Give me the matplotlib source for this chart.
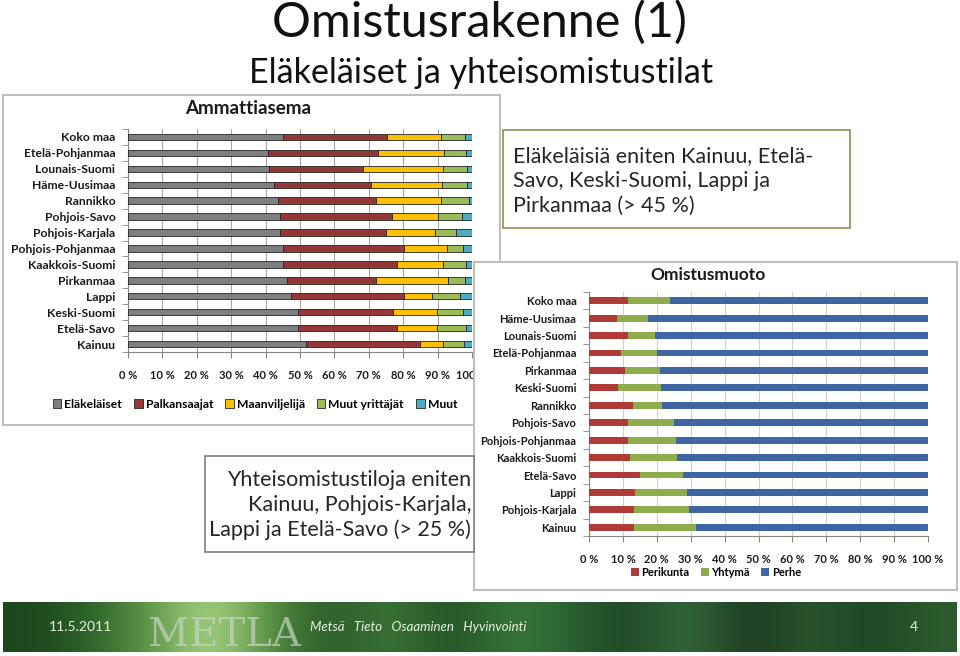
import numpy as np
import matplotlib.pyplot as plt
from matplotlib.patches import Rectangle

W, H = 960, 656

# --- Ammattiasema (left chart), shares in % ---
regions_a = ["Koko maa", "Etelä-Pohjanmaa", "Lounais-Suomi", "Häme-Uusimaa",
             "Rannikko", "Pohjois-Savo", "Pohjois-Karjala", "Pohjois-Pohjanmaa",
             "Kaakkois-Suomi", "Pirkanmaa", "Lappi", "Keski-Suomi",
             "Etelä-Savo", "Kainuu"]
elakelaiset = [45.0, 40.8, 41.1, 42.5, 43.5, 44.2, 44.2, 45.0, 45.1, 46.1, 47.3, 49.5, 49.5, 51.7]
palkansaajat = [30.4, 31.8, 27.2, 28.1, 28.5, 32.5, 30.8, 35.1, 33.1, 25.9, 33.0, 27.5, 28.7, 33.1]
maanviljelija = [15.7, 19.4, 23.4, 20.7, 19.1, 13.3, 14.3, 12.6, 13.3, 21.0, 8.0, 12.8, 11.6, 6.9]
muut_yrittajat = [6.8, 6.3, 6.8, 7.2, 7.9, 7.1, 6.0, 4.6, 6.8, 4.9, 8.1, 7.6, 8.5, 5.9]
muut = [2.1, 1.7, 1.5, 1.5, 1.0, 2.9, 4.7, 2.7, 1.7, 2.1, 3.6, 2.6, 1.7, 2.4]
series_a = ["Eläkeläiset", "Palkansaajat", "Maanviljelijä", "Muut yrittäjät", "Muut"]
colors_a = ["#7f7f7f", "#953735", "#ffc000", "#9bbb59", "#4bacc6"]

# --- Omistusmuoto (right chart), shares in % ---
regions_b = ["Koko maa", "Häme-Uusimaa", "Lounais-Suomi", "Etelä-Pohjanmaa",
             "Pirkanmaa", "Keski-Suomi", "Rannikko", "Pohjois-Savo",
             "Pohjois-Pohjanmaa", "Kaakkois-Suomi", "Etelä-Savo", "Lappi",
             "Pohjois-Karjala", "Kainuu"]
perikunta = [11.4, 8.4, 11.6, 9.4, 10.6, 8.7, 13.1, 11.6, 11.6, 12.1, 14.9, 13.6, 13.3, 13.3]
yhtyma = [12.5, 9.1, 7.9, 10.6, 10.2, 12.5, 8.4, 13.5, 14.1, 14.0, 12.8, 15.2, 16.2, 18.2]
perhe = [76.1, 82.5, 80.5, 80.0, 79.2, 78.8, 78.5, 74.9, 74.3, 73.9, 72.3, 71.2, 70.5, 68.5]
series_b = ["Perikunta", "Yhtymä", "Perhe"]
colors_b = ["#b03a36", "#8eac4c", "#3e66a3"]

xticks = np.arange(0, 101, 10)
xtick_labels = [f"{t} %" for t in xticks]

# footer band stripe colours, left to right
footer_greens = ["#1d461e", "#2c6428", "#5e9848", "#b4dc8c", "#4f8c3c", "#27552a",
                 "#3f7c38", "#1e4a22", "#3c7c3c", "#2b6232", "#1a4222", "#3c7242",
                 "#15321a", "#2f5c32", "#1a4222", "#2c5c2e"]

plt.rcParams["font.family"] = ["Lato", "DejaVu Sans"]

fig = plt.figure(figsize=(W / 100, H / 100), dpi=100)
fig.patch.set_facecolor("white")


def overlay(z):
    ax = fig.add_axes([0, 0, 1, 1], zorder=z)
    ax.set_xlim(0, W)
    ax.set_ylim(H, 0)
    ax.axis("off")
    ax.patch.set_alpha(0)
    return ax


def px_axes(x0, y0, x1, y1, z):
    return fig.add_axes([x0 / W, 1 - y1 / H, (x1 - x0) / W, (y1 - y0) / H], zorder=z)


def stacked_chart(ax, regions, parts, names, colors, edge, grid_color, label_size):
    y = np.arange(len(regions))
    left = np.zeros(len(regions))
    for vals, name, col in zip(parts, names, colors):
        ax.barh(y, vals, left=left, height=0.4, color=col, label=name,
                edgecolor=edge, linewidth=0.6 if edge else 0, zorder=3)
        left += np.array(vals)
    ax.set_xlim(0, 100)
    ax.set_ylim(len(regions) - 0.5, -0.5)
    ax.set_yticks(y)
    ax.set_yticklabels(regions, fontsize=label_size, fontweight="bold", color="#1a1a1a")
    ax.set_yticks(np.arange(len(regions) + 1) - 0.5, minor=True)
    ax.tick_params(axis="y", which="major", length=0, pad=9)
    ax.tick_params(axis="y", which="minor", length=4, color="#868686")
    ax.set_xticks(xticks)
    ax.set_xticklabels(xtick_labels, fontsize=8, fontweight="bold", color="#1a1a1a")
    ax.tick_params(axis="x", length=4, color="#868686", pad=9)
    ax.xaxis.grid(True, color=grid_color, linewidth=0.8, zorder=0)
    ax.set_axisbelow(True)
    for s in ["top", "right"]:
        ax.spines[s].set_visible(False)
    for s in ["left", "bottom"]:
        ax.spines[s].set_color("#868686")
    ax.set_facecolor("none")


# ---------- background layer ----------
bg = overlay(0)
bg.text(480, 22, "Omistusrakenne (1)", fontsize=35, ha="center", va="center", color="#111111")
bg.text(481, 73, "Eläkeläiset ja yhteisomistustilat", fontsize=24.5, ha="center", va="center",
        color="#111111")
bg.add_patch(Rectangle((3, 95), 497, 330, facecolor="white", edgecolor="#bfbfbf", lw=1.5))
bg.text(248, 108, "Ammattiasema", fontsize=13.5, fontweight="bold", ha="center", va="center",
        color="#1a1a1a")
bg.add_patch(Rectangle((503, 130), 347, 98, facecolor="white", edgecolor="#948a54", lw=1.2))
bg.text(513, 181, "Eläkeläisiä eniten Kainuu, Etelä-\nSavo, Keski-Suomi, Lappi ja\nPirkanmaa (> 45 %)",
        fontsize=15.5, ha="left", va="center", linespacing=1.3, color="#262626")

# footer
grad = np.array([[list(int(c[i:i + 2], 16) / 255 for i in (1, 3, 5)) for c in footer_greens]])
bg.imshow(grad, extent=(3, 957, 652, 602), aspect="auto", interpolation="bicubic", zorder=1)
bg.set_xlim(0, W)
bg.set_ylim(H, 0)
bg.text(80, 627, "11.5.2011", fontsize=10, color="#e8f0e0", ha="center", va="center", zorder=2)
bg.text(225, 636, "METLA", fontsize=29, family="DejaVu Serif", color="#c8d4c4", alpha=0.7,
        ha="center", va="center", zorder=2)
bg.text(310, 627, "Metsä   Tieto   Osaaminen   Hyvinvointi", fontsize=9.5, style="italic",
        color="#e8f0e0", ha="left", va="center", zorder=2)
bg.text(914, 627, "4", fontsize=10, color="#e8f0e0", ha="center", va="center", zorder=2)

# ---------- left chart ----------
axl = px_axes(128, 129, 472, 352, 1)
stacked_chart(axl, regions_a, [elakelaiset, palkansaajat, maanviljelija, muut_yrittajat, muut],
              series_a, colors_a, "#262626", "#a6a6a6", 8.7)
axl.legend(loc="center", bbox_to_anchor=(255 / W, 1 - 404 / H), bbox_transform=fig.transFigure,
           ncol=5, frameon=False, handlelength=0.7, handleheight=0.7, handletextpad=0.25,
           columnspacing=1.0, prop={"size": 8.7, "weight": "bold"})

# ---------- middle layer ----------
mid = overlay(2)
mid.add_patch(Rectangle((474, 262), 483, 328, facecolor="white", edgecolor="#bfbfbf", lw=1.5))
mid.add_patch(Rectangle((205, 456), 269, 96, facecolor="white", edgecolor="#7f7f7f", lw=1.2))
mid.text(471, 505, "Yhteisomistustiloja eniten\nKainuu, Pohjois-Karjala,\nLappi ja Etelä-Savo (> 25 %)",
         fontsize=15.5, ha="right", va="center", linespacing=1.3, color="#262626")
mid.text(708, 275, "Omistusmuoto", fontsize=12.5, fontweight="bold", ha="center", va="center",
         color="#1a1a1a")

# ---------- right chart ----------
axr = px_axes(589, 292, 928, 536, 3)
stacked_chart(axr, regions_b, [perikunta, yhtyma, perhe], series_b, colors_b, None, "#d0d0d0", 8)
axr.legend(loc="center", bbox_to_anchor=(716 / W, 1 - 572 / H), bbox_transform=fig.transFigure,
           ncol=3, frameon=False, handlelength=0.7, handleheight=0.7, handletextpad=0.25,
           columnspacing=1.0, prop={"size": 8, "weight": "bold"})

fig.savefig("out.png", dpi=100)
